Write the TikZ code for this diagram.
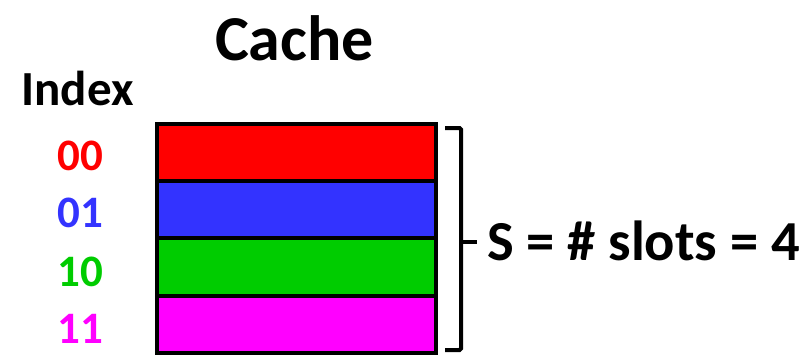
\documentclass[tikz,border=0pt]{standalone}
\usepackage{fontspec}
\setmainfont{Carlito}
\definecolor{slotred}{HTML}{FF0000}
\definecolor{slotblue}{HTML}{3333FF}
\definecolor{slotgreen}{HTML}{00CC00}
\definecolor{slotmagenta}{HTML}{FF00FF}
\begin{document}
\begin{tikzpicture}[x=1pt,y=-1pt,
  slot/.style={draw=black,line width=4pt,minimum width=279pt,minimum height=57.25pt,inner sep=0pt,outer sep=0pt},
  label/.style={inner sep=0pt,anchor=base,font=\bfseries\fontsize{45}{45}\selectfont},
  heading/.style={inner sep=0pt,anchor=base,font=\bfseries\fontsize{#1}{#1}\selectfont},
  brace/.style={line width=4pt,rounded corners=1.5pt}]
\useasboundingbox (0,0) rectangle (811,356);
% title and column heading
\node[heading=64] (title) at (294.5,60) {Cache};
\node[heading=49] (index) at (77.5,105) {Index};
% the four cache slots
\node[slot,fill=slotred] (s0) at (296.5,152.6) {};
\node[slot,fill=slotblue] (s1) at (296.5,209.9) {};
\node[slot,fill=slotgreen] (s2) at (296.5,267.1) {};
\node[slot,fill=slotmagenta] (s3) at (296.5,324.4) {};
% index labels
\node[label,text=slotred] (i0) at (80,170) {00};
\node[label,text=slotblue] (i1) at (80,227) {01};
\node[label,text=slotgreen] (i2) at (80,286) {10};
\node[label,text=slotmagenta] (i3) at (80,343) {11};
% bracket grouping the slots
\coordinate (btl) at (445,128);
\coordinate (btr) at (461,128);
\coordinate (bbr) at (461,350);
\coordinate (bbl) at (445,350);
\coordinate (bmid) at (461,242);
\coordinate (btip) at (477,242);
\draw[brace] (btl) -- (btr) -- (bbr) -- (bbl);
\draw[line width=4pt] (bmid) -- (btip);
\node[inner sep=0pt,anchor=base west,font=\bfseries\fontsize{56.5}{56.5}\selectfont] (count) at (487,260) {S = \# slots = 4};
\end{tikzpicture}
\end{document}
